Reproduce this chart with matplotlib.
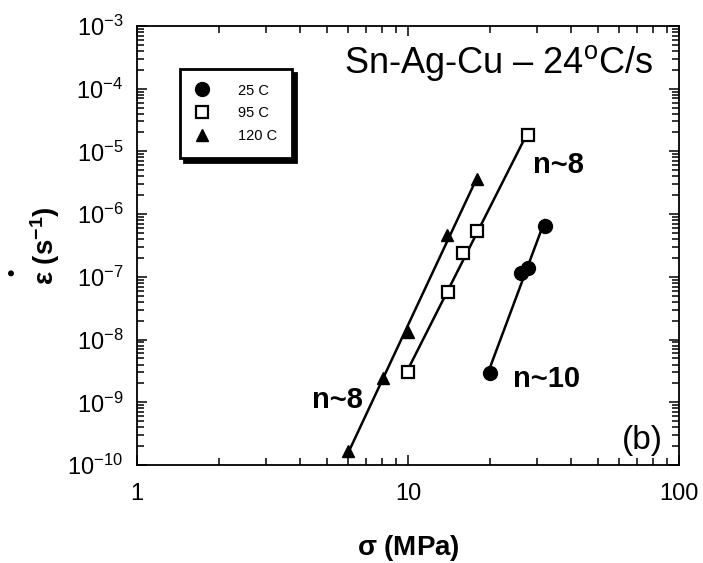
import numpy as np
import matplotlib.pyplot as plt
from matplotlib.ticker import LogLocator, NullFormatter, FixedLocator, FixedFormatter

plt.rcParams['font.family'] = ['Liberation Sans', 'DejaVu Sans']
plt.rcParams['mathtext.fontset'] = 'custom'
plt.rcParams['mathtext.rm'] = 'Liberation Sans'
plt.rcParams['mathtext.it'] = 'Liberation Sans:italic'
plt.rcParams['mathtext.bf'] = 'Liberation Sans:bold'
plt.rcParams['mathtext.default'] = 'regular'

# stress (MPa) vs steady-state strain rate (1/s)
stress_25 = [20.0, 26.0, 27.7, 32.0]
rate_25 = [2.9e-9, 1.15e-7, 1.4e-7, 6.5e-7]

stress_95 = [10.0, 14.0, 16.0, 18.0, 27.7]
rate_95 = [3.0e-9, 5.7e-8, 2.4e-7, 5.4e-7, 1.8e-5]

stress_120 = [6.0, 8.1, 10.0, 13.9, 18.0]
rate_120 = [1.7e-10, 2.4e-9, 1.3e-8, 4.7e-7, 3.6e-6]

labels = ['25 C', '95 C', '120 C']

fig = plt.figure(figsize=(7.03, 5.63), dpi=100)
ax = fig.add_axes([0.195, 0.174, 0.771, 0.78])


def power_fit(x, y):
    # straight line in log-log space over the measured stress range
    p = np.polyfit(np.log10(x), np.log10(y), 1)
    xs = np.array([min(x), max(x)])
    return xs, 10 ** np.polyval(p, np.log10(xs))


for x, y in [(stress_25, rate_25), (stress_95, rate_95), (stress_120, rate_120)]:
    xs, ys = power_fit(x, y)
    ax.plot(xs, ys, color='black', lw=1.8, zorder=2)

ax.plot(stress_25, rate_25, 'o', ms=10, color='black', ls='none', label=labels[0], zorder=3)
ax.plot(stress_95, rate_95, 's', ms=9, mfc='white', mec='black', mew=1.6, ls='none',
        label=labels[1], zorder=3)
ax.plot(stress_120, rate_120, '^', ms=9, color='black', ls='none', label=labels[2], zorder=3)

ax.set_xscale('log')
ax.set_yscale('log')
ax.set_xlim(1, 100)
ax.set_ylim(1e-10, 1e-3)

ax.xaxis.set_major_locator(FixedLocator([1, 10, 100]))
ax.xaxis.set_major_formatter(FixedFormatter(['1', '10', '100']))
ax.xaxis.set_minor_locator(LogLocator(base=10, subs=np.arange(2, 10)))
ax.xaxis.set_minor_formatter(NullFormatter())
ax.yaxis.set_major_locator(LogLocator(base=10, numticks=20))
ax.yaxis.set_minor_locator(LogLocator(base=10, subs=np.arange(2, 10), numticks=20))
ax.yaxis.set_minor_formatter(NullFormatter())

ax.tick_params(which='both', direction='in', top=True, right=True, width=1.1, labelsize=17)
ax.tick_params(which='major', length=7, pad=10)
ax.tick_params(axis='x', which='major', pad=13)
ax.tick_params(which='minor', length=5)
for s in ax.spines.values():
    s.set_linewidth(1.3)

ax.set_xlabel(r'$\mathbf{\sigma}$ (MPa)', fontsize=20, fontweight='bold', labelpad=20)
ax.set_ylabel(r'$\mathbf{\varepsilon}$ (s$^{\mathbf{-1}}$)', fontsize=20, fontweight='bold', labelpad=4)
fig.text(0.019, 0.517, '•', fontsize=15, fontweight='bold', ha='center', va='center', rotation=90)

ax.text(0.952, 0.915, 'Sn-Ag-Cu – 24$^{o}$C/s', transform=ax.transAxes, ha='right', va='center', fontsize=26)
ax.text(0.97, 0.02, '(b)', transform=ax.transAxes, ha='right', va='bottom', fontsize=24)
ax.text(29, 1.0e-5, 'n~8', fontsize=21, fontweight='bold', ha='left', va='top')
ax.text(6.8, 1.8e-9, 'n~8', fontsize=21, fontweight='bold', ha='right', va='top')
ax.text(24.4, 2.35e-9, 'n~10', fontsize=21, fontweight='bold', ha='left', va='center')

leg = ax.legend(loc='upper left', bbox_to_anchor=(0.079, 0.902), fontsize=10.5,
                frameon=True, fancybox=False, edgecolor='black', handlelength=1.0,
                handletextpad=2.0, borderpad=1.0, labelspacing=0.6, borderaxespad=0,
                shadow={'color': 'black', 'alpha': 1.0, 'ox': 3, 'oy': -3})
leg.get_frame().set_linewidth(2.0)

fig.savefig('out.png', dpi=100)
